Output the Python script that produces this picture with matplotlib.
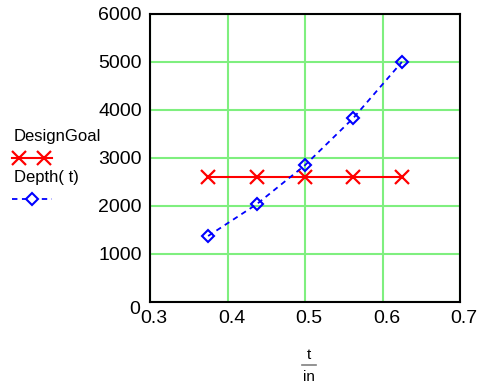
import numpy as np
import matplotlib
matplotlib.use("Agg")
import matplotlib.pyplot as plt
import matplotlib.transforms as mtrans
from matplotlib.lines import Line2D

plt.rcParams['font.family'] = ['Liberation Sans', 'DejaVu Sans']

# thickness in inches
t = [0.375, 0.4375, 0.5, 0.5625, 0.625]
depth = [1375, 2035, 2850, 3835, 5000]
design_goal = [2600, 2600, 2600, 2600, 2600]

xticks = [0.3, 0.4, 0.5, 0.6, 0.7]
yticks = [0, 1000, 2000, 3000, 4000, 5000, 6000]

fig = plt.figure(figsize=(4.79, 3.85), dpi=100)
ax = fig.add_axes([150/479, 83/385, 310/479, 288/385])

ax.plot(t, design_goal, color='red', lw=1.5, marker='x', ms=10, mew=1.6)
ax.plot(t, depth, color='blue', lw=1.3, ls=(0, (3, 2.5)), marker='D', ms=6,
        mfc='none', mew=1.5)

ax.set_xlim(0.3, 0.7)
ax.set_ylim(0, 6000)
ax.set_xticks(xticks)
ax.set_yticks(yticks)
ax.set_xticklabels(['0.3', '0.4', '0.5', '0.6', '0.7'])
ax.set_yticklabels([str(v) for v in yticks])
ax.grid(True, color='#7fef7f', lw=1.5)
ax.set_axisbelow(True)
ax.tick_params(length=0, labelsize=14)
ax.tick_params(axis='y', pad=6)
ax.tick_params(axis='x', pad=6)
for s in ax.spines.values():
    s.set_linewidth(1.5)

# mathcad style label offsets
shift_x = mtrans.ScaledTranslation(4/100, 0, fig.dpi_scale_trans)
for lab in ax.get_xticklabels():
    lab.set_transform(lab.get_transform() + shift_x)
shift_0 = mtrans.ScaledTranslation(-2/100, -6/100, fig.dpi_scale_trans)
lab0 = ax.get_yticklabels()[0]
lab0.set_transform(lab0.get_transform() + shift_0)

# x label as stacked fraction t/in
fig.text(309/479, 1 - 355/385, 't', ha='center', va='center', fontsize=11)
fig.text(309/479, 1 - 377/385, 'in', ha='center', va='center', fontsize=11)
fig.add_artist(Line2D([302/479, 316/479], [1 - 365/385, 1 - 365/385],
                      color='gray', lw=1.2))

# legend on the left
fig.text(14/479, 1 - 137/385, 'DesignGoal', ha='left', va='center', fontsize=12)
fig.add_artist(Line2D([12/479, 52/479], [1 - 158/385] * 2, color='red', lw=1.5))
fig.add_artist(Line2D([19/479, 44/479], [1 - 158/385] * 2, color='red', lw=0,
                      marker='x', ms=10, mew=1.6))
fig.text(14/479, 1 - 178/385, 'Depth( t)', ha='left', va='center', fontsize=12)
fig.add_artist(Line2D([12/479, 52/479], [1 - 199/385] * 2, color='blue', lw=1.3,
                      ls=(0, (3, 2.5))))
fig.add_artist(Line2D([32/479], [1 - 199/385], color='blue', lw=0, marker='D',
                      ms=6, mfc='white', mew=1.5))

fig.savefig('out.png', dpi=100)
